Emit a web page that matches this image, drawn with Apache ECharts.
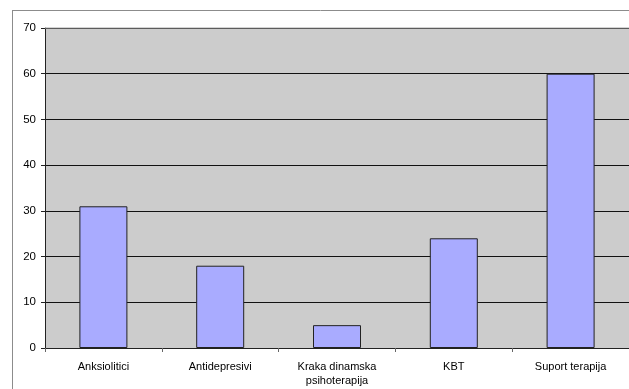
<!DOCTYPE html>
<html>
<head>
<meta charset="utf-8">
<script src="https://cdn.jsdelivr.net/npm/echarts@6/dist/echarts.min.js"></script>
<style>
  html, body { margin: 0; padding: 0; background: #fff; }
  #chart { width: 629px; height: 389px; }
</style>
</head>
<body>
<div id="chart"></div>
<script>
// Therapy types and how often each was used
const categories = ['Anksiolitici', 'Antidepresivi', 'Kraka dinamska\npsihoterapija', 'KBT', 'Suport terapija'];
const values = [31, 18, 5, 24, 60];
const yTicks = { min: 0, max: 70, interval: 10 };

const chart = echarts.init(document.getElementById('chart'), null, { renderer: 'canvas' });

chart.setOption({
  animation: false,
  textStyle: { fontFamily: 'Liberation Sans, Arial, sans-serif' },
  graphic: [
    // outer chart frame (top and left edges visible)
    { type: 'line', shape: { x1: 12, y1: 10.5, x2: 629, y2: 10.5 }, style: { stroke: '#8c8c8c', lineWidth: 1 }, z: 0 },
    { type: 'line', shape: { x1: 12.5, y1: 10, x2: 12.5, y2: 389 }, style: { stroke: '#8c8c8c', lineWidth: 1 }, z: 0 },
    // light top edge of the plot area
    { type: 'line', shape: { x1: 45, y1: 28, x2: 629, y2: 28 }, style: { stroke: '#a8a8a8', lineWidth: 1 }, z: 5 }
  ],
  grid: {
    left: 45, top: 28, width: 589, bottom: 41,
    show: true, backgroundColor: '#CCCCCC', borderWidth: 0
  },
  xAxis: {
    type: 'category',
    data: categories,
    boundaryGap: true,
    axisLine: { show: true, lineStyle: { color: '#222', width: 1 } },
    axisTick: { show: true, length: 4, lineStyle: { color: '#666' } },
    axisLabel: { color: '#000', fontSize: 11, margin: 12, lineHeight: 14, interval: 0 },
    splitLine: { show: false }
  },
  yAxis: {
    type: 'value',
    min: yTicks.min, max: yTicks.max, interval: yTicks.interval,
    axisLine: { show: true, lineStyle: { color: '#222', width: 1 } },
    axisTick: { show: true, length: 4, lineStyle: { color: '#222' } },
    axisLabel: { color: '#000', fontSize: 11.5, margin: 9 },
    splitLine: { show: true, lineStyle: { color: '#111', width: 1 } }
  },
  series: [{
    type: 'bar',
    data: values,
    barWidth: 48,
    itemStyle: { color: '#A9ABFF', borderColor: '#222', borderWidth: 1 }
  }]
});
</script>
</body>
</html>
